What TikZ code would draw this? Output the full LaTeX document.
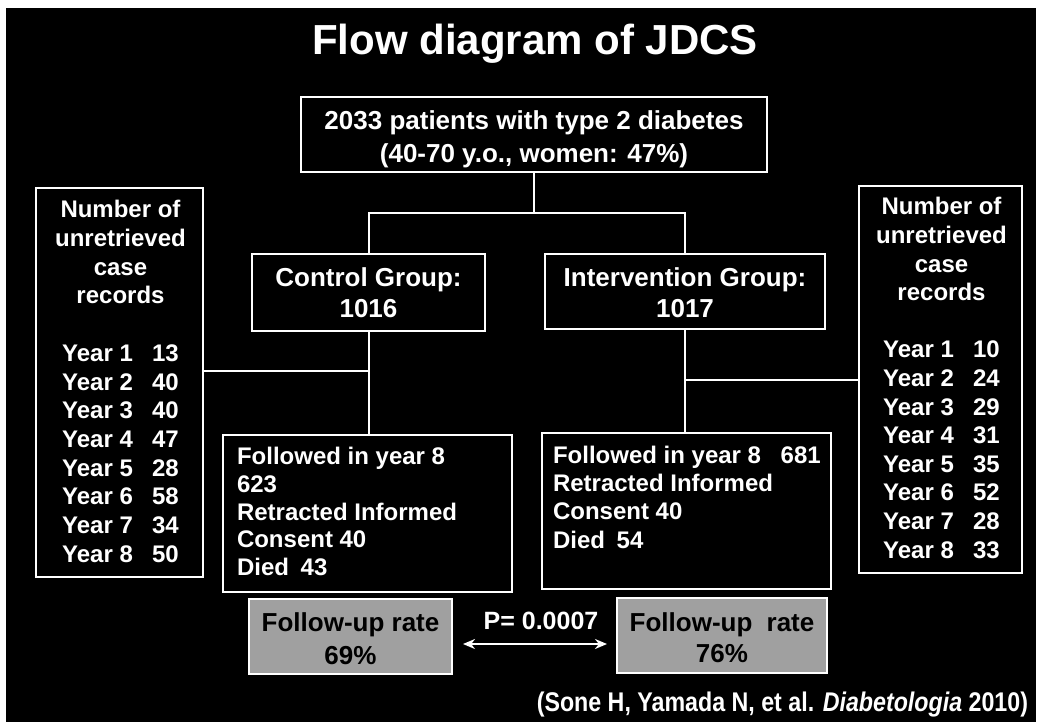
\documentclass[tikz,border=0pt]{standalone}
\usepackage{fontspec}
\setmainfont{Liberation Sans}
\newfontfamily\narrowfont[FakeStretch=0.86]{Liberation Sans}
\usetikzlibrary{arrows.meta}
\definecolor{boxgray}{RGB}{160,160,160}
\newcommand{\fs}[2]{\fontsize{#1}{#2}\selectfont}
\tikzset{
  frame/.style={draw=white, line width=2.2pt, inner sep=0pt, outer sep=0pt},
  grayframe/.style={draw=white, fill=boxgray, line width=1.6pt, inner sep=0pt, outer sep=0pt},
  conn/.style={draw=white, line width=2pt},
  txt/.style={text=white, inner sep=0pt, outer sep=0pt},
  darktxt/.style={text=black, inner sep=0pt, outer sep=0pt},
}
\begin{document}
\begin{tikzpicture}[x=1pt,y=-1pt]
\useasboundingbox (0,0) rectangle (1040,725);
\fill[white] (0,0) rectangle (1040,725);
\fill[black] (6,8) rectangle (1036,722);

% title
\node[txt, anchor=base, font=\fs{42}{50}\bfseries] (title) at (535,55) {Flow diagram of JDCS};

% top box
\node[frame, minimum width=466pt, minimum height=75pt] (top) at (534,134.5) {};
\node[txt, align=center, font=\fs{26}{33}\bfseries] (toptxt) at (534,138.9)
  {2033 patients with type 2 diabetes\\(40-70 y.o., women: 47\%)};

% group boxes
\node[frame, minimum width=233pt, minimum height=77pt] (ctrl) at (368.5,292.5) {};
\node[txt, align=center, font=\fs{26}{31}\bfseries] (ctrltxt) at (368.5,292.5) {Control Group:\\1016};
\node[frame, minimum width=280pt, minimum height=75pt] (int) at (685,291.5) {};
\node[txt, align=center, font=\fs{26}{31}\bfseries] (inttxt) at (685,292.5) {Intervention Group:\\1017};

% side boxes
\node[frame, minimum width=167pt, minimum height=389pt] (lbox) at (119.5,382.5) {};
\node[txt, align=center, font=\fs{24}{28.7}\bfseries] (ltxt) at (120.5,381.5)
  {Number of\\unretrieved\\case\\records\\[28.7pt]
   \makebox[90pt][l]{Year 1}13\\
   \makebox[90pt][l]{Year 2}40\\
   \makebox[90pt][l]{Year 3}40\\
   \makebox[90pt][l]{Year 4}47\\
   \makebox[90pt][l]{Year 5}28\\
   \makebox[90pt][l]{Year 6}58\\
   \makebox[90pt][l]{Year 7}34\\
   \makebox[90pt][l]{Year 8}50};
\node[frame, minimum width=163pt, minimum height=387pt] (rbox) at (940.5,379.5) {};
\node[txt, align=center, font=\fs{24}{28.6}\bfseries] (rtxt) at (941.5,378)
  {Number of\\unretrieved\\case\\records\\[28.6pt]
   \makebox[90pt][l]{Year 1}10\\
   \makebox[90pt][l]{Year 2}24\\
   \makebox[90pt][l]{Year 3}29\\
   \makebox[90pt][l]{Year 4}31\\
   \makebox[90pt][l]{Year 5}35\\
   \makebox[90pt][l]{Year 6}52\\
   \makebox[90pt][l]{Year 7}28\\
   \makebox[90pt][l]{Year 8}33};

% followed boxes
\node[frame, minimum width=289pt, minimum height=157pt] (fctrl) at (367.5,513.5) {};
\node[txt, anchor=north west, align=left, font=\fs{24}{27.8}\bfseries] (fctrltxt) at (237,447)
  {Followed in year 8\\623\\Retracted Informed\\Consent 40\\Died\hspace{5pt} 43};
\node[frame, minimum width=289pt, minimum height=156pt] (fint) at (686.5,511) {};
\node[txt, anchor=north west, align=left, font=\fs{24}{28.3}\bfseries] (finttxt) at (553,446)
  {Followed in year 8\hspace{13pt} 681\\Retracted Informed\\Consent 40\\Died\hspace{5pt} 54};

% follow-up rate boxes
\node[grayframe, minimum width=203pt, minimum height=75pt] (lrate) at (350.5,636.5) {};
\node[darktxt, align=center, font=\fs{26}{33}\bfseries] (lratetxt) at (350.5,638.5) {Follow-up rate\\69\%};
\node[grayframe, minimum width=210pt, minimum height=75pt] (rrate) at (722,635.5) {};
\node[darktxt, align=center, font=\fs{26}{31}\bfseries] (rratetxt) at (722,637.5) {Follow-up\hspace{7pt} rate\\76\%};

% p value and arrow
\node[txt, anchor=base, font=\fs{25}{30}\bfseries] (pval) at (541,629) {P= 0.0007};
\coordinate (al) at (463,644);
\coordinate (ar) at (607,644);
\draw[conn, {Stealth[length=12pt,width=10pt]}-{Stealth[length=12pt,width=10pt]}] (al) -- (ar);

% connectors
\coordinate (split) at (534,213);
\draw[conn] (top.south) -- (split);
\draw[conn] (ctrl.north) |- (split) -| (int.north);
\draw[conn] (ctrl.south) -- (ctrl.south |- fctrl.north);
\draw[conn] (int.south) -- (int.south |- fint.north);
\coordinate (jl) at (368.5,371);
\coordinate (jr) at (685,380);
\draw[conn] (jl) -- (jl -| lbox.east);
\draw[conn] (jr) -- (jr -| rbox.west);

% citation
\node[txt, anchor=base east, font=\fs{27}{32}\narrowfont\bfseries] (cite) at (1028,711.5)
  {(Sone H, Yamada N, et al. \textit{Diabetologia} 2010)};
\end{tikzpicture}
\end{document}
